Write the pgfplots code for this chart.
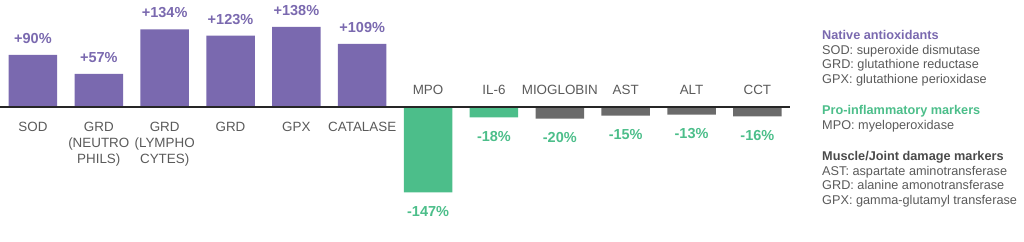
\documentclass[border=0pt]{standalone}
\usepackage{pgfplots}
\pgfplotsset{compat=1.18}
\usepackage{fontspec}
\setmainfont{Liberation Sans}
\definecolor{cpurple}{HTML}{7A69AF}
\definecolor{cgreen}{HTML}{4CBE8A}
\definecolor{cgrey}{HTML}{6B6B6B}
\definecolor{ctext}{HTML}{5A5A5A}
\definecolor{chead}{HTML}{4A4A4A}
\newcommand{\catfont}{\fontsize{13.4}{13.4}\selectfont}
\newcommand{\valfont}{\fontsize{14.5}{14.5}\selectfont\bfseries}
\newcommand{\legfont}{\fontsize{12.7}{12.7}\selectfont}
\newcommand{\catlab}[3]{\node[anchor=base, inner sep=0pt, text=ctext, font=\catfont] at ([yshift=#2]axis cs:#1,0) {#3};}
\begin{document}
\begin{tikzpicture}
\begin{axis}[
  scale only axis, x=65.86pt, y=0.58pt,
  xmin=-0.5, xmax=11.5, ymin=-231.03, ymax=184.48,
  hide axis, clip=false,
  ybar, bar width=48.5pt, bar shift=0pt,
  point meta=explicit symbolic,
  nodes near coords={\pgfplotspointmeta\%},
]
\addplot[fill=cpurple, draw=none,
  every node near coord/.append style={text=cpurple, font=\valfont, inner sep=0pt, anchor=base, yshift=11.5pt}]
  coordinates {(0,90)[+90] (1,57)[+57] (2,134)[+134] (3,123)[+123] (4,138)[+138] (5,109)[+109]};
\addplot[fill=cgreen, draw=none,
  every node near coord/.append style={text=cgreen, font=\valfont, inner sep=0pt, anchor=north, yshift=-13.5pt}]
  coordinates {(6,-147)[-147] (7,-18)[-18]};
\addplot[fill=cgrey, draw=none,
  every node near coord/.append style={text=cgreen, font=\valfont, inner sep=0pt, anchor=north, yshift=-13.5pt}]
  coordinates {(8,-20)[-20] (9,-15)[-15] (10,-13)[-13] (11,-16)[-16]};
\draw[line width=1.6pt, black!85] (axis cs:-0.5,0) -- (axis cs:11.5,0);
% positive category labels (below axis)
\catlab{0}{-24pt}{SOD}
\catlab{1}{-24pt}{GRD}
\catlab{1}{-40pt}{(NEUTRO}
\catlab{1}{-56.5pt}{PHILS)}
\catlab{2}{-24pt}{GRD}
\catlab{2}{-40pt}{(LYMPHO}
\catlab{2}{-56.5pt}{CYTES)}
\catlab{3}{-24pt}{GRD}
\catlab{4}{-24pt}{GPX}
\catlab{5}{-24pt}{CATALASE}
% negative category labels (above axis)
\catlab{6}{12.5pt}{MPO}
\catlab{7}{12.5pt}{IL-6}
\catlab{8}{12.5pt}{MIOGLOBIN}
\catlab{9}{12.5pt}{AST}
\catlab{10}{12.5pt}{ALT}
\catlab{11}{12.5pt}{CCT}
\end{axis}
% legend / glossary
\begin{scope}[every node/.style={anchor=base west, inner sep=0pt, font=\legfont, text=ctext}]
\node[text=cpurple, font=\legfont\bfseries] at (822pt,201.7pt) {Native antioxidants};
\node at (822pt,186.7pt) {SOD: superoxide dismutase};
\node at (822pt,172pt) {GRD: glutathione reductase};
\node at (822pt,157.3pt) {GPX: glutathione perioxidase};
\node[text=cgreen, font=\legfont\bfseries] at (822pt,126.7pt) {Pro-inflammatory markers};
\node at (822pt,111.7pt) {MPO: myeloperoxidase};
\node[text=chead, font=\legfont\bfseries] at (822pt,81pt) {Muscle/Joint damage markers};
\node at (822pt,66pt) {AST: aspartate aminotransferase};
\node at (822pt,51.3pt) {GRD: alanine amonotransferase};
\node at (822pt,36.7pt) {GPX: gamma-glutamyl transferase};
\end{scope}
\pgfresetboundingbox
\useasboundingbox (0,0) rectangle (1024pt,241pt);
\end{tikzpicture}
\end{document}
